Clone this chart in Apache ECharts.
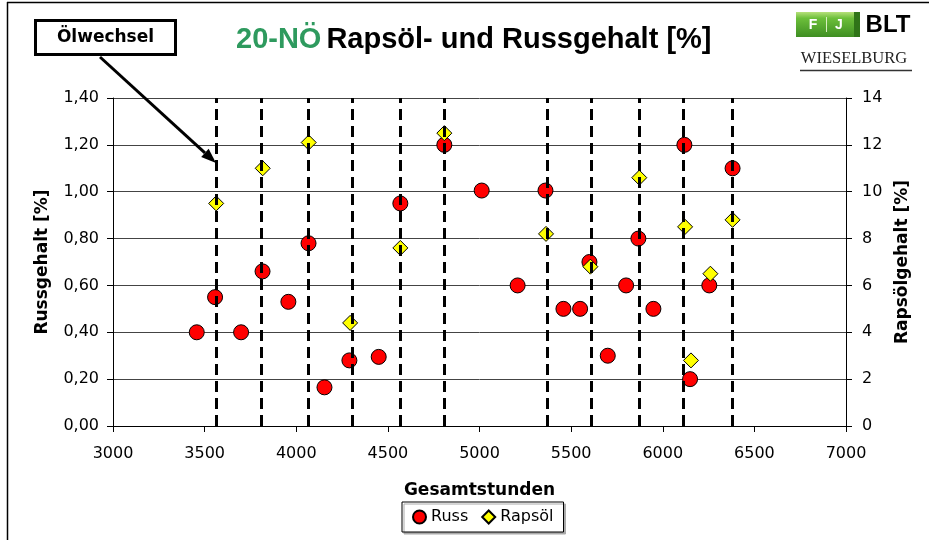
<!DOCTYPE html>
<html>
<head>
<meta charset="utf-8">
<script src="https://cdn.jsdelivr.net/npm/echarts@6/dist/echarts.min.js"></script>
<style>
  html, body { margin: 0; padding: 0; background: #fff; }
  #chart { width: 929px; height: 540px; }
</style>
</head>
<body>
<div id="chart"></div>
<script>
// Gesamtstunden / Russgehalt [%]
const russHours = [3457, 3557, 3699, 3816, 3957, 4067, 4154, 4290, 4450, 4568, 4808, 5012, 5208,
                   5360, 5458, 5549, 5600, 5700, 5800, 5867, 5949, 6118, 6149, 6254, 6381]
const russValues = [0.40, 0.55, 0.40, 0.66, 0.53, 0.78, 0.165, 0.28, 0.295, 0.95, 1.20, 1.005, 0.60,
                    1.005, 0.50, 0.50, 0.70, 0.30, 0.60, 0.80, 0.50, 1.20, 0.20, 0.60, 1.10]

// Gesamtstunden / Rapsölgehalt [%]
const rapsHours = [3563, 3817, 4068, 4294, 4568, 4808, 5363, 5605, 5872, 6122, 6154, 6260, 6381]
const rapsValues = [9.5, 11.0, 12.1, 4.4, 7.6, 12.5, 8.2, 6.8, 10.6, 8.5, 2.8, 6.5, 8.8]

// Ölwechsel (dashed lines)
const oilChanges = [3566, 3810, 4068, 4308, 4568, 4808, 5367, 5609, 5874, 6114, 6381]

const xTicks = { min: 3000, max: 7000, step: 500 }
const leftTicks = { min: 0, max: 1.4, step: 0.2 }
const rightTicks = { min: 0, max: 14, step: 2 }

const labelFont = '"DejaVu Sans", Verdana, sans-serif'
const titleFont = '"Liberation Sans", Arial, sans-serif'

const chart = echarts.init(document.getElementById('chart'))

// arrow from annotation box to the first oil change
const arrowFrom = [100, 57]
const arrowTo = [216, 163]
const ang = Math.atan2(arrowTo[1] - arrowFrom[1], arrowTo[0] - arrowFrom[0])
const headLen = 15, headHalf = 5.5
const base = [arrowTo[0] - headLen * Math.cos(ang), arrowTo[1] - headLen * Math.sin(ang)]
const perp = [-Math.sin(ang) * headHalf, Math.cos(ang) * headHalf]

const option = {
    backgroundColor: '#fff',
    animation: false,
    title: {
        text: '{g|20-NÖ} {k|Rapsöl- und Russgehalt [%]}',
        left: 231,
        top: 20,
        textStyle: {
            rich: {
                g: { fontFamily: titleFont, fontWeight: 'bold', fontSize: 29, color: '#2e9a5e' },
                k: { fontFamily: titleFont, fontWeight: 'bold', fontSize: 29, color: '#000' }
            }
        }
    },
    legend: {
        data: ['Russ', 'Rapsöl'],
        left: 402,
        top: 502,
        padding: [7, 10, 7, 10],
        itemGap: 13,
        itemWidth: 13,
        itemHeight: 13,
        borderColor: '#000',
        borderWidth: 1,
        backgroundColor: '#fff',
        shadowColor: '#aaa',
        shadowOffsetX: 2,
        shadowOffsetY: 2,
        shadowBlur: 0,
        textStyle: { fontFamily: labelFont, fontSize: 16, color: '#000' }
    },
    grid: {
        left: 113,
        right: 83,
        top: 98,
        bottom: 114,
        outerBoundsMode: 'none'
    },
    xAxis: {
        type: 'value',
        min: xTicks.min,
        max: xTicks.max,
        interval: xTicks.step,
        name: 'Gesamtstunden',
        nameLocation: 'middle',
        nameGap: 56,
        nameTextStyle: { fontFamily: labelFont, fontWeight: 'bold', fontSize: 17, color: '#000' },
        axisLine: { onZero: false, lineStyle: { color: '#000', width: 1 } },
        axisTick: { show: true, inside: false, length: 6, lineStyle: { color: '#000' } },
        axisLabel: {
            margin: 20,
            fontFamily: labelFont,
            fontSize: 16,
            color: '#000',
            formatter: v => String(v)
        },
        splitLine: { show: false }
    },
    yAxis: [
        {
            type: 'value',
            position: 'left',
            min: leftTicks.min,
            max: leftTicks.max,
            interval: leftTicks.step,
            name: 'Russgehalt [%]',
            nameLocation: 'middle',
            nameGap: 62,
            nameTextStyle: { fontFamily: labelFont, fontWeight: 'bold', fontSize: 17, color: '#000' },
            axisLine: { show: true, lineStyle: { color: '#000', width: 1 } },
            axisTick: { show: true, inside: false, length: 6, lineStyle: { color: '#000' } },
            axisLabel: {
                margin: 14,
                fontFamily: labelFont,
                fontSize: 16,
                color: '#000',
                formatter: v => v.toFixed(2).replace('.', ',')
            },
            splitLine: { show: true, lineStyle: { color: '#444', width: 1 } }
        },
        {
            type: 'value',
            position: 'right',
            min: rightTicks.min,
            max: rightTicks.max,
            interval: rightTicks.step,
            name: 'Rapsölgehalt [%]',
            nameLocation: 'middle',
            nameGap: 48,
            nameRotate: 90,
            nameTextStyle: { fontFamily: labelFont, fontWeight: 'bold', fontSize: 17, color: '#000' },
            axisLine: { show: true, lineStyle: { color: '#000', width: 1 } },
            axisTick: { show: true, inside: false, length: 6, lineStyle: { color: '#000' } },
            axisLabel: { margin: 16, fontFamily: labelFont, fontSize: 16, color: '#000' },
            splitLine: { show: false }
        }
    ],
    series: [
        {
            name: 'Russ',
            type: 'scatter',
            yAxisIndex: 0,
            symbol: 'circle',
            symbolSize: 15,
            itemStyle: { color: '#ff0000', borderColor: '#000', borderWidth: 1, opacity: 1 },
            data: russHours.map((h, i) => [h, russValues[i]]),
            markLine: {
                silent: true,
                symbol: ['none', 'none'],
                label: { show: false },
                lineStyle: { color: '#000', width: 3, type: [11, 6] },
                emphasis: { disabled: true },
                data: oilChanges.map(h => ({ xAxis: h }))
            }
        },
        {
            name: 'Rapsöl',
            type: 'scatter',
            yAxisIndex: 1,
            symbol: 'diamond',
            symbolSize: 15,
            itemStyle: { color: '#ffff00', borderColor: '#000', borderWidth: 1, opacity: 1 },
            data: rapsHours.map((h, i) => [h, rapsValues[i]])
        }
    ],
    graphic: [
        // outer frame
        { type: 'line', silent: true, shape: { x1: 7.5, y1: 2, x2: 7.5, y2: 540 }, style: { stroke: '#000', lineWidth: 1.5 } },
        { type: 'line', silent: true, shape: { x1: 7, y1: 2.5, x2: 929, y2: 2.5 }, style: { stroke: '#000', lineWidth: 1.5 } },
        // Ölwechsel annotation
        {
            type: 'line', silent: true, z: 10,
            shape: { x1: arrowFrom[0], y1: arrowFrom[1], x2: base[0], y2: base[1] },
            style: { stroke: '#000', lineWidth: 3 }
        },
        {
            type: 'polygon', silent: true, z: 10,
            shape: { points: [arrowTo, [base[0] + perp[0], base[1] + perp[1]], [base[0] - perp[0], base[1] - perp[1]]] },
            style: { fill: '#000' }
        },
        {
            type: 'rect', silent: true, z: 10,
            shape: { x: 35.5, y: 20.5, width: 140, height: 34 },
            style: { fill: '#fff', stroke: '#000', lineWidth: 3 }
        },
        {
            type: 'text', silent: true, z: 11,
            x: 105.5, y: 37.5,
            style: {
                text: 'Ölwechsel', fill: '#000',
                font: 'bold 17px ' + labelFont,
                align: 'center', verticalAlign: 'middle'
            }
        },
        // logo
        {
            type: 'group', silent: true, left: 796, top: 12,
            children: [
                {
                    type: 'rect', shape: { x: 0, y: 0, width: 64, height: 25 },
                    style: {
                        fill: new echarts.graphic.LinearGradient(0, 0, 0, 1, [
                            { offset: 0, color: '#b6e07a' },
                            { offset: 0.25, color: '#6cbf3a' },
                            { offset: 1, color: '#3e8e22' }
                        ])
                    }
                },
                { type: 'rect', shape: { x: 58, y: 0, width: 6, height: 25 }, style: { fill: '#2f7418' } },
                { type: 'line', shape: { x1: 30.5, y1: 5, x2: 30.5, y2: 20 }, style: { stroke: '#d9efc0', lineWidth: 1 } },
                { type: 'text', x: 17, y: 13, style: { text: 'F', fill: '#fff', font: 'bold 14px ' + titleFont, align: 'center', verticalAlign: 'middle' } },
                { type: 'text', x: 43, y: 13, style: { text: 'J', fill: '#fff', font: 'bold 14px ' + titleFont, align: 'center', verticalAlign: 'middle' } },
                { type: 'text', x: 92, y: 13, style: { text: 'BLT', fill: '#000', font: 'bold 24px ' + titleFont, align: 'center', verticalAlign: 'middle' } },
                { type: 'text', x: 58, y: 47, style: { text: 'WIESELBURG', fill: '#222', font: '16.5px "Liberation Serif", "Times New Roman", serif', align: 'center', verticalAlign: 'middle' } },
                { type: 'line', shape: { x1: 4, y1: 58.5, x2: 116, y2: 58.5 }, style: { stroke: '#333', lineWidth: 1.5 } }
            ]
        }
    ]
}

chart.setOption(option)

window.addEventListener('resize', () => chart.resize())
</script>
</body>
</html>
